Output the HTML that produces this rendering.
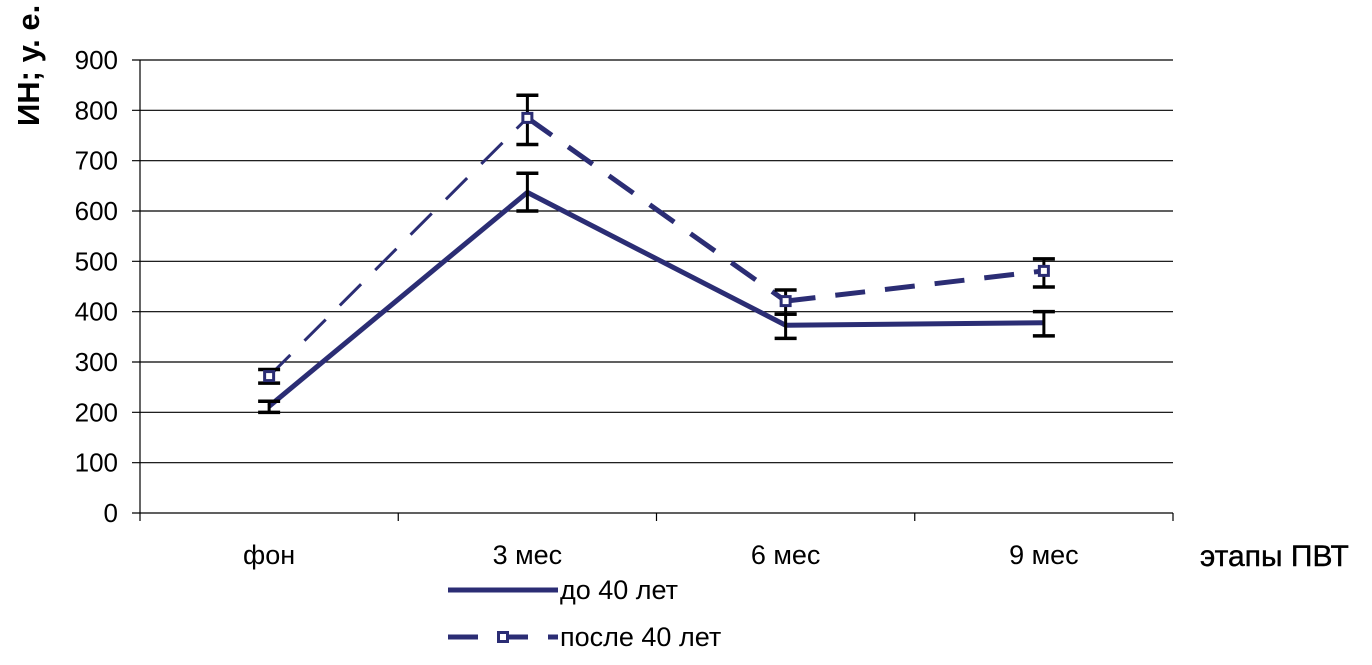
<!DOCTYPE html>
<html><head><meta charset="utf-8"><style>
body{margin:0;background:#fff;}
svg text{font-family:"Liberation Sans",sans-serif;fill:#000;}
</style></head><body>
<svg id="chart" width="1372" height="660" viewBox="0 0 1372 660"></svg>
<script>
const categories=["фон","3 мес","6 мес","9 мес"];
const yTicks=[0,100,200,300,400,500,600,700,800,900];
const under40=[212,637,373,378];
const under40Lo=[200,600,347,352];
const under40Hi=[222,675,395,400];
const over40=[272,785,421,481];
const over40Lo=[258,732,395,449];
const over40Hi=[285,830,443,505];

const svg=document.getElementById('chart');
const NS='http://www.w3.org/2000/svg';
const X0=140,X1=1173,Y0=513,Y1=60,YMAX=900;
const band=(X1-X0)/categories.length;
function xs(i){return X0+band*(i+0.5);}
function ys(v){return Y0-(v/YMAX)*(Y0-Y1);}
function mk(tag,attrs,parent){const e=document.createElementNS(NS,tag);for(const k in attrs)e.setAttribute(k,attrs[k]);(parent||svg).appendChild(e);return e;}

yTicks.forEach(t=>{
  const g=mk('line',{x1:X0-8,x2:X1,y1:ys(t),y2:ys(t),stroke:'#000','stroke-width':1.2});
  
  
  const tx=mk('text',{x:X0-22,y:ys(t)+9,'text-anchor':'end','font-size':26});
  tx.textContent=t;
  
  
});
const ax=mk('line',{x1:X0,x2:X0,y1:Y1,y2:Y0,stroke:'#000','stroke-width':1.2});


for(let i=0;i<=categories.length;i++){
  const t=mk('line',{x1:X0+band*i,x2:X0+band*i,y1:Y0,y2:Y0+8,stroke:'#000','stroke-width':1.2});
  
  
}
categories.forEach((c,i)=>{
  const t=mk('text',{x:xs(i),y:564,'text-anchor':'middle','font-size':27});
  t.textContent=c;
  
  
});
const yt=mk('text',{x:0,y:0,'font-size':31,'font-weight':'bold','transform':'translate(39,126) rotate(-90)','text-anchor':'start'});
yt.textContent='ИН; у. е.';


const xt=mk('text',{x:1200,y:566,'font-size':30,'stroke':'#000','stroke-width':0.4});
xt.textContent='этапы ПВТ';



const col='#2b2d74';
function series(vals,dash,name,firstW){
  for(let i=0;i<vals.length-1;i++){
    const p=mk('line',{x1:xs(i),y1:ys(vals[i]),x2:xs(i+1),y2:ys(vals[i+1]),stroke:col,'stroke-width':(i===0&&firstW)?firstW:5,'stroke-dasharray':dash});
    
    
  }
}
function errs(lo,hi,name){
  lo.forEach((l,i)=>{
    const g=mk('g',{});
    
    
    mk('line',{x1:xs(i),x2:xs(i),y1:ys(l),y2:ys(hi[i]),stroke:'#000','stroke-width':3},g);
    mk('line',{x1:xs(i)-11,x2:xs(i)+11,y1:ys(l),y2:ys(l),stroke:'#000','stroke-width':3.5},g);
    mk('line',{x1:xs(i)-11,x2:xs(i)+11,y1:ys(hi[i]),y2:ys(hi[i]),stroke:'#000','stroke-width':3.5},g);
  });
}
series(under40,'','under-40',0);
series(over40,'30 20','over-40',3);
errs(under40Lo,under40Hi,'under-40');
errs(over40Lo,over40Hi,'over-40');
over40.forEach((v,i)=>{
  const m=mk('rect',{x:xs(i)-4.5,y:ys(v)-4.5,width:9,height:9,fill:'#fff',stroke:col,'stroke-width':3});
  
  
});

const l1=mk('g',{});


mk('line',{x1:448,x2:558,y1:590,y2:590,stroke:col,'stroke-width':5},l1);
const lt1=mk('text',{x:560,y:599,'font-size':27},l1);lt1.textContent='до 40 лет';
const l2=mk('g',{});


mk('line',{x1:448,x2:558,y1:637,y2:637,stroke:col,'stroke-width':5,'stroke-dasharray':'30 20'},l2);
mk('rect',{x:498.5,y:632.5,width:9,height:9,fill:'#fff',stroke:col,'stroke-width':3},l2);
const lt2=mk('text',{x:560,y:646,'font-size':27},l2);lt2.textContent='после 40 лет';
</script>
</body></html>
